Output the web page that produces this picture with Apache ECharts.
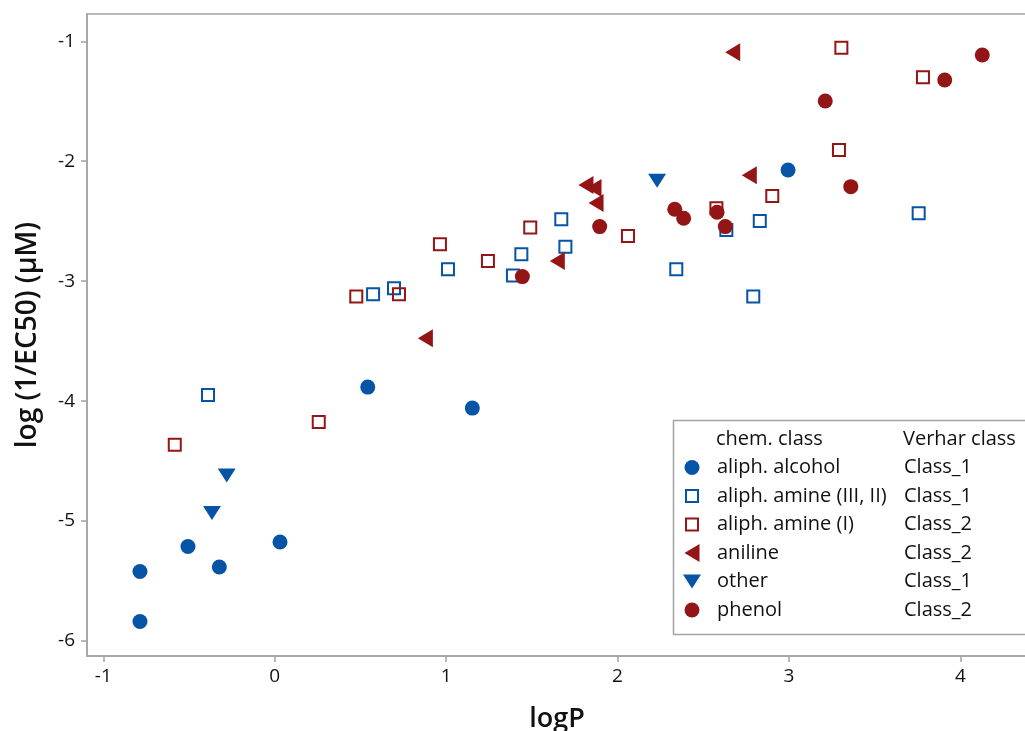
<!DOCTYPE html>
<html>
<head>
<meta charset="utf-8">
<script src="https://cdn.jsdelivr.net/npm/echarts@6/dist/echarts.min.js"></script>
<style>
  html, body { margin: 0; padding: 0; background: #fff; overflow: hidden; }
  #chart { width: 1025px; height: 731px; }
</style>
</head>
<body>
<div id="chart"></div>
<script>
// Toxicity vs. lipophilicity, grouped by chemical class
const xTicks = [-1, 0, 1, 2, 3, 4];
const yTicks = [-6, -5, -4, -3, -2, -1];

const alcoholX = [-0.786, -0.786, -0.506, -0.323, 0.031, 0.543, 1.153, 2.995];
const alcoholY = [-5.42, -5.837, -5.212, -5.383, -5.175, -3.883, -4.058, -2.073];

const amine32X = [-0.389, 0.574, 0.696, 1.011, 1.39, 1.439, 1.672, 1.696, 2.343, 2.635, 2.83, 2.792, 3.757];
const amine32Y = [-3.948, -3.108, -3.058, -2.9, -2.953, -2.775, -2.483, -2.712, -2.9, -2.573, -2.498, -3.128, -2.433];

const amine1X = [-0.583, 0.257, 0.476, 0.725, 0.964, 1.244, 1.491, 2.061, 2.577, 2.903, 3.292, 3.306, 3.782];
const amine1Y = [-4.364, -4.175, -3.128, -3.108, -2.692, -2.831, -2.553, -2.623, -2.392, -2.289, -1.906, -1.053, -1.30];

const anilineX = [0.879, 1.649, 1.816, 1.863, 1.875, 2.672, 2.769];
const anilineY = [-3.475, -2.831, -2.198, -2.223, -2.348, -1.092, -2.117];

const otherX = [-0.366, -0.28, 2.231];
const otherY = [-4.933, -4.62, -2.162];

const phenolX = [1.445, 1.896, 2.334, 2.386, 2.581, 2.629, 3.212, 3.361, 3.909, 4.128];
const phenolY = [-2.962, -2.545, -2.40, -2.475, -2.425, -2.545, -1.498, -2.212, -1.323, -1.114];

const classNames = ['aliph. alcohol', 'aliph. amine (III, II)', 'aliph. amine (I)', 'aniline', 'other', 'phenol'];
const verharClass = ['Class_1', 'Class_1', 'Class_2', 'Class_2', 'Class_1', 'Class_2'];

const BLUE = '#0554a6';
const RED = '#931515';
const GRID_GRAY = '#a3a3a3';
const FONT = '"Open Sans", "Noto Sans", sans-serif';

const pairs = (xs, ys) => xs.map((x, i) => [x, ys[i]]);

const LEFT_TRI = 'path://M0,9 L15,0 L15,18 Z';
const DOWN_TRI = 'path://M0,0 L18,0 L9,14 Z';
// legend glyphs drawn inside an 18x18 box so circle and square keep their smaller size
const LEGEND_DOT = 'path://M0,0 M18,18 M1.5,9 A7.5,7.5 0 1 0 16.5,9 A7.5,7.5 0 1 0 1.5,9 Z';
const LEGEND_BOX = 'path://M0,0 M18,18 M3,3 L15,3 L15,15 L3,15 Z';
const legendIcons = [LEGEND_DOT, LEGEND_BOX, LEGEND_BOX, LEFT_TRI, DOWN_TRI, LEGEND_DOT];

const series = [
  { name: classNames[0], data: pairs(alcoholX, alcoholY), symbol: 'circle', symbolSize: 15,
    itemStyle: { color: BLUE, opacity: 1 } },
  { name: classNames[1], data: pairs(amine32X, amine32Y), symbol: 'rect', symbolSize: 12,
    itemStyle: { color: 'rgba(255,255,255,0)', borderColor: BLUE, borderWidth: 2, opacity: 1 } },
  { name: classNames[2], data: pairs(amine1X, amine1Y), symbol: 'rect', symbolSize: 12,
    itemStyle: { color: 'rgba(255,255,255,0)', borderColor: RED, borderWidth: 2, opacity: 1 } },
  { name: classNames[3], data: pairs(anilineX, anilineY), symbol: LEFT_TRI, symbolSize: [15, 18],
    itemStyle: { color: RED, opacity: 1 } },
  { name: classNames[4], data: pairs(otherX, otherY), symbol: DOWN_TRI, symbolSize: [18, 14],
    itemStyle: { color: BLUE, opacity: 1 } },
  { name: classNames[5], data: pairs(phenolX, phenolY), symbol: 'circle', symbolSize: 15,
    itemStyle: { color: RED, opacity: 1 } }
].map(s => Object.assign({ type: 'scatter', z: 3, emphasis: { disabled: true } }, s));

const chart = echarts.init(document.getElementById('chart'), null, { renderer: 'canvas', width: 1025, height: 731 });

chart.setOption({
  animation: false,
  backgroundColor: '#fff',
  textStyle: { fontFamily: FONT },
  grid: {
    left: 87, top: 14, width: 940, height: 642,
    outerBoundsMode: 'none',
    containLabel: false,
    show: true, borderColor: GRID_GRAY, borderWidth: 1.5, backgroundColor: '#fff'
  },
  xAxis: {
    type: 'value',
    min: -1.095, max: 4.389,
    name: 'logP',
    nameLocation: 'middle',
    nameGap: 50,
    nameTextStyle: { fontSize: 27, fontWeight: 600, color: '#111', fontFamily: FONT },
    splitLine: { show: false },
    axisLine: { show: true, onZero: false, lineStyle: { color: GRID_GRAY, width: 1.5 } },
    axisTick: { show: true, length: 6, lineStyle: { color: GRID_GRAY, width: 1.5 }, customValues: xTicks },
    axisLabel: { color: '#111', fontSize: 19, margin: 11, customValues: xTicks, fontFamily: FONT }
  },
  yAxis: {
    type: 'value',
    min: -6.125, max: -0.7725,
    name: 'log (1/EC50) (µM)',
    nameLocation: 'middle',
    nameGap: 45,
    nameTextStyle: { fontSize: 28, fontWeight: 600, color: '#111', fontFamily: FONT },
    splitLine: { show: false },
    axisLine: { show: true, onZero: false, lineStyle: { color: GRID_GRAY, width: 1.5 } },
    axisTick: { show: true, length: 6, lineStyle: { color: GRID_GRAY, width: 1.5 }, customValues: yTicks },
    axisLabel: { color: '#111', fontSize: 19, margin: 12, customValues: yTicks, fontFamily: FONT }
  },
  legend: {
    z: 20,
    orient: 'vertical',
    left: 682,
    top: 457.5,
    padding: 0,
    itemWidth: 18,
    itemHeight: 18,
    itemGap: 8.5,
    selectedMode: false,
    data: classNames.map((n, i) => ({ name: n, icon: legendIcons[i] })),
    formatter: name => {
      const i = classNames.indexOf(name);
      return '{a|' + name + '}{b|' + verharClass[i] + '}';
    },
    textStyle: {
      rich: {
        a: { width: 187, fontSize: 20, color: '#111', lineHeight: 22, padding: [0, 0, 0, 11], fontFamily: FONT },
        b: { fontSize: 20, color: '#111', lineHeight: 22, fontFamily: FONT }
      }
    }
  },
  graphic: [
    { type: 'rect', z: 10, shape: { x: 673.5, y: 420.5, width: 400, height: 214 },
      style: { fill: '#fff', stroke: GRID_GRAY, lineWidth: 1.5 } },
    { type: 'text', z: 21, x: 716, y: 439,
      style: { text: 'chem. class', font: '20px ' + FONT, fill: '#111', verticalAlign: 'middle' } },
    { type: 'text', z: 21, x: 903, y: 439,
      style: { text: 'Verhar class', font: '20px ' + FONT, fill: '#111', verticalAlign: 'middle' } }
  ],
  series: series
});
</script>
</body>
</html>
